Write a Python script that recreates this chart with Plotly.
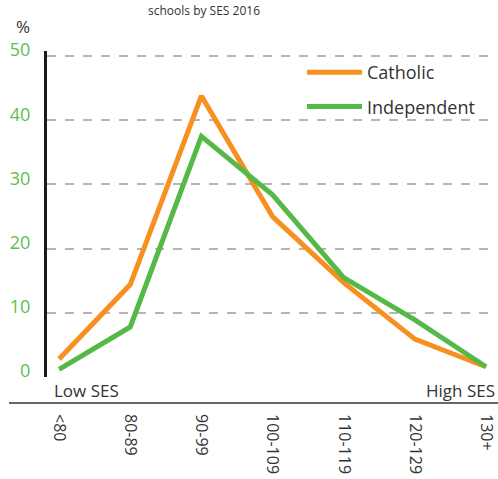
import plotly.graph_objects as go

categories = ["<80", "80-89", "90-99", "100-109", "110-119", "120-129", "130+"]
catholic = [2.8, 14.4, 43.8, 25.0, 14.7, 5.9, 1.6]
independent = [1.2, 7.8, 37.5, 28.4, 15.5, 8.9, 1.6]
y_ticks = [0, 10, 20, 30, 40, 50]

ORANGE = "#F7901E"
GREEN = "#55B947"
FONT = "Open Sans"
W, H = 498, 479
L, T = 47, 51
PLOT_RIGHT, PLOT_BOTTOM = 491, 377
R, B = W - PLOT_RIGHT, H - PLOT_BOTTOM
PW, PH = W - L - R, H - T - B


def px(x):
    # screenshot x -> paper fraction
    return (x - L) / PW


def py(y):
    # screenshot y -> paper fraction
    return (H - B - y) / PH


fig = go.Figure()
fig.add_trace(go.Scatter(x=categories, y=catholic, mode="lines", legendgroup="c",
                         name="Catholic", line=dict(color=ORANGE, width=5)))
fig.add_trace(go.Scatter(x=categories, y=independent, mode="lines", legendgroup="i",
                         name="Independent", line=dict(color=GREEN, width=5)))

fig.update_layout(
    width=W, height=H,
    margin=dict(l=L, r=R, t=T, b=B, autoexpand=False),
    paper_bgcolor="white", plot_bgcolor="white",
    font=dict(family=FONT, size=16, color="#333333"),
    showlegend=True,
    legend=dict(x=px(302), y=py(54), xanchor="left", yanchor="top",
                bgcolor="rgba(0,0,0,0)", font=dict(size=18, color="#333333", family=FONT),
                itemwidth=55, tracegroupgap=8),
    xaxis=dict(type="category", range=[-0.17, 6.07],
               tickangle=90, showgrid=False, zeroline=False, showline=False,
               ticks="", ticklabelstandoff=36, automargin=False,
               ticklabeloverflow="allow",
               tickfont=dict(size=16, color="#333333", family=FONT)),
    yaxis=dict(range=[0, 50.8], tickmode="array", tickvals=y_ticks,
               showgrid=True, gridcolor="#B5B5B5", griddash="dash", gridwidth=1.5,
               zeroline=False, showline=True, linecolor="#1a1a1a", linewidth=3,
               ticks="", ticklabelshift=-6, ticklabelstandoff=10, automargin=False,
               tickfont=dict(size=18, color="#5CBF4F", family=FONT)),
)

# separator line below chart
fig.add_shape(type="line", xref="paper", yref="paper",
              x0=px(9), x1=px(498), y0=py(403), y1=py(403),
              line=dict(color="#333333", width=1.5))

fig.add_annotation(text="Low SES", xref="paper", yref="paper",
                   x=px(52), y=py(390), xanchor="left", yanchor="middle",
                   showarrow=False, font=dict(size=17, color="#333333", family=FONT))
fig.add_annotation(text="High SES", xref="paper", yref="paper",
                   x=px(497), y=py(390), xanchor="right", yanchor="middle",
                   showarrow=False, font=dict(size=17, color="#333333", family=FONT))
fig.add_annotation(text="%", xref="paper", yref="paper",
                   x=px(14), y=py(26), xanchor="left", yanchor="middle",
                   showarrow=False, font=dict(size=17, color="#333333", family=FONT))
fig.add_annotation(text="schools by SES 2016", xref="paper", yref="paper",
                   x=px(204), y=py(0), xanchor="center", yanchor="top",
                   showarrow=False, font=dict(size=12, color="#333333", family=FONT))

fig.write_html("out.html",
               config={"displayModeBar": False},
               post_script="document.body.style.margin='0';document.body.style.overflow='hidden';")
